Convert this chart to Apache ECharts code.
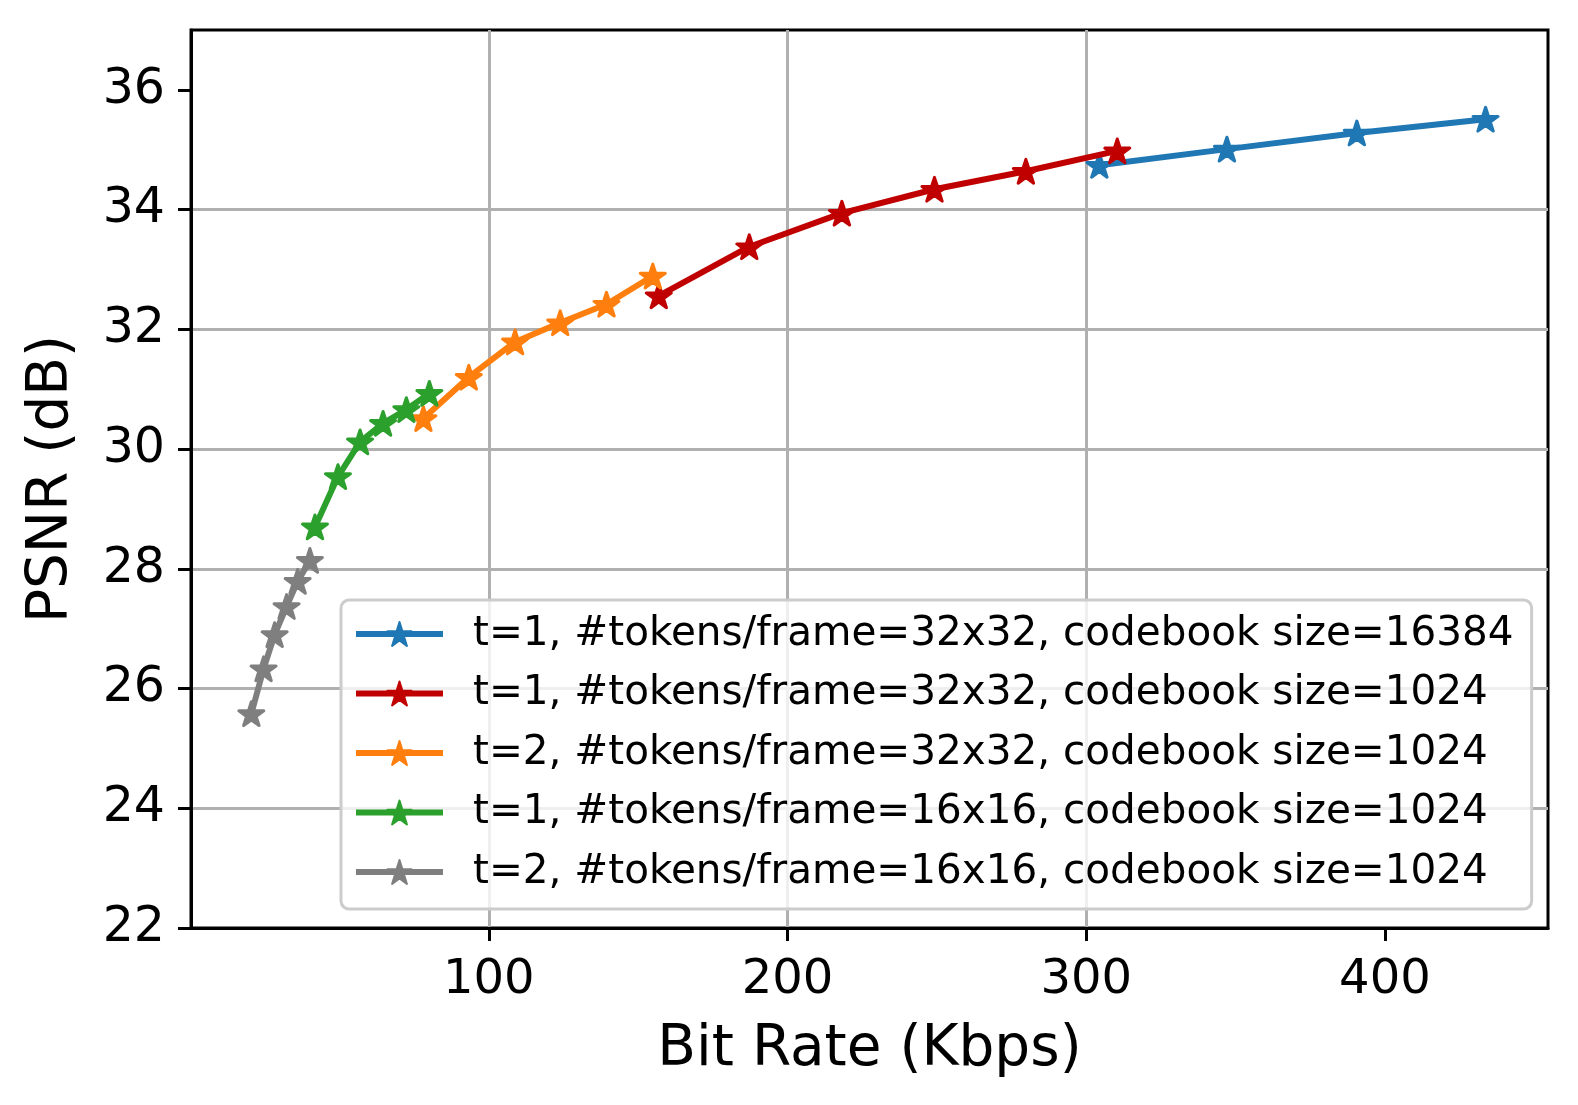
<!DOCTYPE html>
<html><head><meta charset="utf-8">
<script src="https://cdn.jsdelivr.net/npm/echarts@6/dist/echarts.min.js"></script>
<style>html,body{margin:0;padding:0;background:#fff;} #c{width:1578px;height:1105px;}</style>
</head><body><div id="c"></div>
<script>
const seriesNames = [
  't=1, #tokens/frame=32x32, codebook size=16384',
  't=1, #tokens/frame=32x32, codebook size=1024',
  't=2, #tokens/frame=32x32, codebook size=1024',
  't=1, #tokens/frame=16x16, codebook size=1024',
  't=2, #tokens/frame=16x16, codebook size=1024'
];
const blueX = [304.4, 347.1, 390.6, 433.7];
const blueY = [34.74, 35.01, 35.28, 35.51];
const redX = [156.9, 187.2, 218.2, 249.2, 279.8, 310.4];
const redY = [32.56, 33.38, 33.94, 34.34, 34.64, 34.98];
const orangeX = [78.1, 93.3, 108.8, 123.9, 139.4, 154.9];
const orangeY = [30.51, 31.20, 31.79, 32.11, 32.42, 32.89];
const greenX = [41.8, 49.5, 56.9, 64.6, 72.4, 80.1];
const greenY = [28.70, 29.54, 30.12, 30.43, 30.66, 30.93];
const grayX = [20.5, 24.6, 28.3, 32.3, 36.0, 40.1];
const grayY = [25.58, 26.33, 26.90, 27.37, 27.79, 28.14];
const xTicks = [100, 200, 300, 400];
const yTicks = [22, 24, 26, 28, 30, 32, 34, 36];
const xTitle = 'Bit Rate (Kbps)';
const yTitle = 'PSNR (dB)';

const colors = ['#1f77b4', '#c00000', '#ff7f0e', '#2ca02c', '#7f7f7f'];
const xs = [blueX, redX, orangeX, greenX, grayX];
const ys = [blueY, redY, orangeY, greenY, grayY];
const star = 'path://M0,-1 L0.2245,-0.309 L0.9511,-0.309 L0.3633,0.118 L0.5878,0.809 L0,0.382 L-0.5878,0.809 L-0.3633,0.118 L-0.9511,-0.309 L-0.2245,-0.309 Z';
const FONT = 'DejaVu Sans';

const chart = echarts.init(document.getElementById('c'), null, {renderer: 'canvas'});
const series = seriesNames.map((name, i) => ({
  name: name,
  type: 'line',
  data: xs[i].map((x, j) => [x, ys[i][j]]),
  symbol: star,
  symbolSize: 25,
  symbolKeepAspect: true,
  showSymbol: true,
  lineStyle: {color: colors[i], width: 6},
  itemStyle: {color: colors[i], borderColor: colors[i], borderWidth: 3, borderJoin: 'round'},
  emphasis: {disabled: true},
  z: 2 + i * 0.01
}));

chart.setOption({
  animation: false,
  backgroundColor: '#ffffff',
  textStyle: {fontFamily: FONT},
  grid: {left: 191, right: 30, top: 30, bottom: 177, show: true, borderColor: '#000', borderWidth: 3, containLabel: false},
  xAxis: {
    type: 'value', min: 0.3, max: 454.6,
    name: xTitle, nameLocation: 'middle', nameGap: 94,
    nameTextStyle: {fontFamily: FONT, fontSize: 56.5, color: '#000'},
    axisLine: {show: true, lineStyle: {color: '#000', width: 3}},
    axisTick: {show: true, length: 13, lineStyle: {color: '#000', width: 3}, customValues: xTicks},
    axisLabel: {fontFamily: FONT, fontSize: 48, color: '#000', margin: 29, customValues: xTicks},
    splitLine: {show: true, showMinLine: true, showMaxLine: false, lineStyle: {color: '#b0b0b0', width: 3}}
  },
  yAxis: {
    type: 'value', min: 22, max: 37, interval: 2,
    name: yTitle, nameLocation: 'middle', nameGap: 110, nameRotate: 90,
    nameTextStyle: {fontFamily: FONT, fontSize: 56.5, color: '#000'},
    axisLine: {show: true, lineStyle: {color: '#000', width: 3}},
    axisTick: {show: true, length: 13, lineStyle: {color: '#000', width: 3}, customValues: yTicks},
    axisLabel: {fontFamily: FONT, fontSize: 49, color: '#000', margin: 26, customValues: yTicks},
    splitLine: {show: true, showMinLine: false, showMaxLine: false, lineStyle: {color: '#b0b0b0', width: 3}}
  },
  legend: {
    orient: 'vertical', left: 341, top: 600,
    itemWidth: 87, itemHeight: 30, itemGap: 11.5,
    padding: [10, 18, 13, 12],
    backgroundColor: 'rgba(255,255,255,0.8)', borderColor: '#cccccc', borderWidth: 3, borderRadius: 8,
    selectedMode: false,
    lineStyle: {width: 6},
    textStyle: {fontFamily: FONT, fontSize: 40.5, color: '#000', lineHeight: 48, padding: [0, 0, 0, 25]},
    data: seriesNames
  },
  series: series
});
</script></body></html>
